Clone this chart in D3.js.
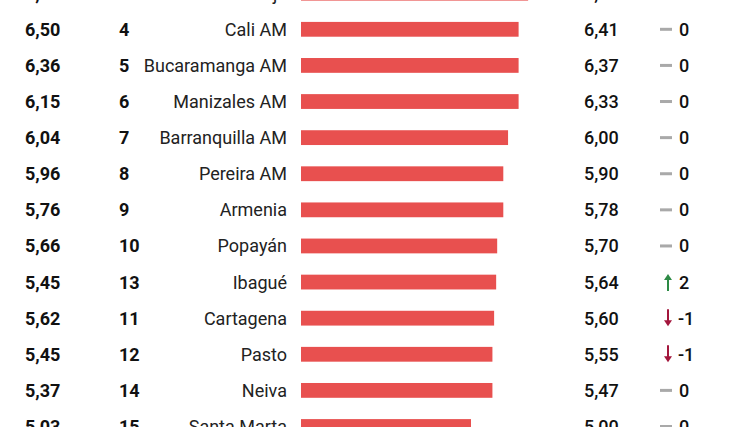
<!DOCTYPE html>
<html>
<head>
<meta charset="utf-8">
<script src="https://cdn.jsdelivr.net/npm/d3@7/dist/d3.min.js"></script>
<style>
  html, body { margin: 0; padding: 0; background: #ffffff; }
  svg { display: block; }
  text { font-family: Roboto, "Noto Sans", sans-serif; }
</style>
</head>
<body>
<svg id="chart" width="747" height="427"></svg>
<script>
// Data (top and bottom rows are cut off in the reference)
const cities = ["Tunja", "Cali AM", "Bucaramanga AM", "Manizales AM", "Barranquilla AM", "Pereira AM", "Armenia", "Popayán", "Ibagué", "Cartagena", "Pasto", "Neiva", "Santa Marta"];
const ranks = [3, 4, 5, 6, 7, 8, 9, 10, 13, 11, 12, 14, 15];
const prevScores = ["6,61", "6,50", "6,36", "6,15", "6,04", "5,96", "5,76", "5,66", "5,45", "5,62", "5,45", "5,37", "5,03"];
const currScores = ["6,54", "6,41", "6,37", "6,33", "6,00", "5,90", "5,78", "5,70", "5,64", "5,60", "5,55", "5,47", "5,00"];
const barValues = [6.68, 6.40, 6.40, 6.40, 6.09, 5.95, 5.95, 5.77, 5.74, 5.68, 5.63, 5.63, 5.00];
const changes = [0, 0, 0, 0, 0, 0, 0, 0, 2, -1, -1, 0, 0];

const svg = d3.select("#chart");

const y = d3.scalePoint().domain(cities).range([-6.8, 426.5]);
const x = d3.scaleLinear().domain([0, 10]).range([301, 641]);
const barH = 14.8;

const rows = svg.selectAll("g.row")
  .data(cities.map((c, i) => ({ city: c, rank: ranks[i], prev: prevScores[i], curr: currScores[i], bar: barValues[i], change: changes[i] })))
  .join("g")
  .attr("class", "row")
  .attr("transform", d => `translate(0,${y(d.city)})`);

// bars
rows.append("rect")
  .attr("x", x(0))
  .attr("y", -barH / 2)
  .attr("width", d => x(d.bar) - x(0))
  .attr("height", barH)
  .attr("fill", "#e8504f");

// previous score
rows.append("text")
  .attr("x", 25).attr("dy", "0.36em")
  .attr("font-size", 18).attr("font-weight", 700)
  .attr("fill", "#111")
  .text(d => d.prev);

// rank
rows.append("text")
  .attr("x", 119).attr("dy", "0.36em")
  .attr("font-size", 18).attr("font-weight", 700)
  .attr("fill", "#111")
  .text(d => d.rank);

// city
rows.append("text")
  .attr("x", 287).attr("dy", "0.36em")
  .attr("text-anchor", "end")
  .attr("font-size", 18).attr("font-weight", 400)
  .attr("fill", "#222")
  .text(d => d.city);

// current score
rows.append("text")
  .attr("x", 584).attr("dy", "0.36em")
  .attr("font-size", 18).attr("font-weight", 500)
  .attr("fill", "#111")
  .text(d => d.curr);

// change indicator
rows.each(function(d) {
  const g = d3.select(this);
  if (d.change === 0) {
    g.append("rect").attr("x", 660).attr("y", -1.5).attr("width", 12).attr("height", 3).attr("fill", "#a9a9a9");
  } else if (d.change > 0) {
    const c = "#2d8a45";
    g.append("line").attr("x1", 668).attr("x2", 668).attr("y1", -3).attr("y2", 9).attr("stroke", c).attr("stroke-width", 2);
    g.append("path").attr("d", "M664,-2 L668,-8 L672,-2 Z").attr("fill", c);
  } else {
    const c = "#a3163c";
    g.append("line").attr("x1", 668).attr("x2", 668).attr("y1", -9).attr("y2", 3).attr("stroke", c).attr("stroke-width", 2);
    g.append("path").attr("d", "M664,2 L668,8 L672,2 Z").attr("fill", c);
  }
  g.append("text")
    .attr("x", d.change < 0 ? 678 : 679).attr("dy", "0.36em")
    .attr("font-size", 18).attr("font-weight", 500)
    .attr("fill", "#111")
    .text(d.change < 0 ? "-" + Math.abs(d.change) : d.change);
});
</script>
</body>
</html>
